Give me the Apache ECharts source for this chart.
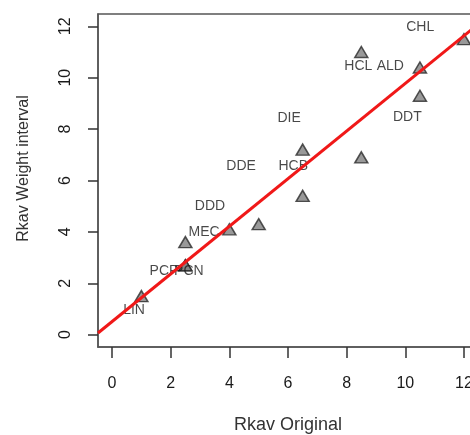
<!DOCTYPE html>
<html>
<head>
<meta charset="utf-8">
<script src="https://cdn.jsdelivr.net/npm/echarts@6/dist/echarts.min.js"></script>
<style>
  html, body { margin:0; padding:0; background:#fff; overflow:hidden; }
  #chart { width:490px; height:435px; }
</style>
</head>
<body>
<div id="chart"></div>
<script>
// === Datos ===
// triángulos (Rkav original, Rkav weight interval)
const ptX = [1, 2.5, 2.5, 2.5, 4, 5, 6.5, 6.5, 8.5, 8.5, 10.5, 10.5, 12];
const ptY = [1.5, 2.7, 2.7, 3.6, 4.1, 4.3, 7.2, 5.4, 6.9, 11, 10.4, 9.3, 11.5];

// etiquetas (posición del texto tal cual en la figura)
const labNames = ['LIN','PCP','PCN','MEC','DDD','DDE','HCB','DIE','HCL','ALD','DDT','CHL'];
const labX = [0.75, 1.77, 2.62, 3.14, 3.34, 4.40, 6.18, 6.04, 8.40, 9.49, 10.07, 10.51];
const labY = [0.97, 2.49, 2.49, 4.0, 5.02, 6.54, 6.54, 8.44, 10.47, 10.47, 8.48, 11.98];

// recta ajustada (abline)
const fitIntercept = 0.51, fitSlope = 0.927;

// ejes
const xTicks = [0, 2, 4, 6, 8, 10, 12];
const yTicks = [0, 2, 4, 6, 8, 10, 12];
const axMin = -0.48, axMax = 12.48;

const ink = '#1a1a1a', boxCol = '#555';
const font = 'Liberation Sans, Arial, sans-serif';

const chart = echarts.init(document.getElementById('chart'));
chart.setOption({
  animation:false,
  grid:{ left:98, right:12, top:14, bottom:88, outerBoundsMode:'none', containLabel:false,
    show:true, borderColor:boxCol, borderWidth:1.5 },
  xAxis:{
    type:'value', min:axMin, max:axMax,
    name:'Rkav Original', nameLocation:'middle', nameGap:69,
    nameTextStyle:{ color:'#333', fontSize:18, fontFamily:font },
    axisLine:{ show:true, onZero:false, lineStyle:{ color:boxCol, width:1.5 } },
    axisTick:{ show:true, length:11, customValues:xTicks, lineStyle:{ color:'#333', width:1.5 } },
    axisLabel:{ customValues:xTicks, color:ink, fontSize:16, fontFamily:font, margin:29 },
    splitLine:{ show:false }
  },
  yAxis:{
    type:'value', min:axMin, max:axMax,
    name:'Rkav Weight interval', nameLocation:'middle', nameGap:66, nameRotate:90,
    nameTextStyle:{ color:'#333', fontSize:16, fontFamily:font, padding:[0,0,0,24] },
    axisLine:{ show:true, onZero:false, lineStyle:{ color:boxCol, width:1.5 } },
    axisTick:{ show:true, length:10, customValues:yTicks, lineStyle:{ color:'#333', width:1.5 } },
    axisLabel:{ customValues:yTicks, color:ink, fontSize:16, fontFamily:font, margin:24, rotate:90 },
    splitLine:{ show:false }
  },
  series:[
    { type:'scatter', symbol:'triangle', symbolSize:[13,11], z:2,
      itemStyle:{ color:'#808080', borderColor:'#2a2a2a', borderWidth:1.5 },
      data: ptX.map((x,i)=>[x, ptY[i]]) },
    { type:'scatter', symbolSize:1, z:3, itemStyle:{ color:'rgba(0,0,0,0)' },
      label:{ show:true, position:'inside', formatter:p=>p.name, color:ink, fontSize:14, fontFamily:font },
      data: labNames.map((n,i)=>({ name:n, value:[labX[i], labY[i]] })) },
    { type:'line', symbol:'none', z:5, clip:true,
      lineStyle:{ color:'#f01818', width:3 },
      data: [axMin, axMax].map(x=>[x, fitIntercept + fitSlope*x]) }
  ]
});
</script>
</body>
</html>
